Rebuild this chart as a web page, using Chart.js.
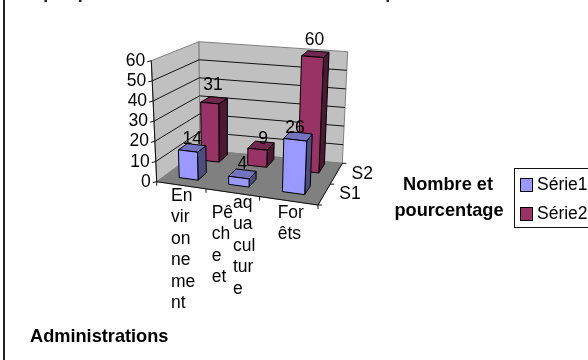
<!DOCTYPE html>
<html>
<head>
<meta charset="utf-8">
<style>html,body{margin:0;padding:0;background:#fff}canvas{display:block}</style>
<script src="https://cdn.jsdelivr.net/npm/chart.js@4"></script>
</head>
<body>
<canvas id="c" width="588" height="360"></canvas>
<script>
// Chart values
const categories = ['Environnement', 'Pêche et aquaculture', 'Forêts'];
const seriesNames = ['Série1', 'Série2'];
const series1 = [14, 4, 26];
const series2 = [31, 9, 60];
const depthLabels = ['S1', 'S2'];
const valueTicks = { min: 0, max: 60, stepSize: 10 };
const xTitle = 'Administrations';
const yTitle = ['Nombre et', 'pourcentage'];
// Narrow-column wrapping of the category names
const categoryColumns = [
  [['En', 'vir', 'on', 'ne', 'me', 'nt']],
  [['Pê', 'ch', 'e', 'et'], ['aq', 'ua', 'cul', 'tur', 'e']],
  [['For', 'êts']]
];

// Placement of those wrapped columns and of the value labels
const columnOffsets = [[[-12.8, 14]], [[-25.8, 31], [-4.5, 21]], [[-13.5, 31]]];
const valueNudge = [
  [[0, 9], [0, 10], [-3, 8]],
  [[-1, 15], [2, 6], [-1, 14]]
];

const FONT = '"Liberation Sans", Arial, sans-serif';
const SIZE = 17.5;
const BOLD = 18.2;

// Corners of the 3D box: floor (h=0) and top (h=1), front/back, left/right
const box = {
  f0l: [156.7, 181.7], f0r: [318, 205], b0l: [200, 150], b0r: [342.3, 163.3],
  f1l: [151.3, 60.7], f1r: [324, 78], b1l: [199, 41.7], b1r: [347.7, 51.7]
};
const rows = [{ v: 0.295, half: 0.105 }, { v: 0.83, half: 0.105 }];

const mix = (a, b, t) => [a[0] + (b[0] - a[0]) * t, a[1] + (b[1] - a[1]) * t];
const warp = u => u / (1.135 - 0.135 * u);
function project(u, v, h) {
  const w = warp(u);
  const floor = mix(mix(box.f0l, box.f0r, w), mix(box.b0l, box.b0r, w), v);
  const top = mix(mix(box.f1l, box.f1r, w), mix(box.b1l, box.b1r, w), v);
  return mix(floor, top, h);
}
function poly(ctx, pts, fill, stroke, width) {
  ctx.beginPath();
  pts.forEach((p, i) => i ? ctx.lineTo(p[0], p[1]) : ctx.moveTo(p[0], p[1]));
  ctx.closePath();
  if (fill) { ctx.fillStyle = fill; ctx.fill(); }
  if (stroke) { ctx.strokeStyle = stroke; ctx.lineWidth = width || 1; ctx.stroke(); }
}
function seg(ctx, a, b, color, width) {
  ctx.beginPath();
  ctx.moveTo(a[0], a[1]);
  ctx.lineTo(b[0], b[1]);
  ctx.strokeStyle = color;
  ctx.lineWidth = width || 1;
  ctx.stroke();
}

// Bars drawn as boxes; x, y, base and width come from the bar controller
class Box3DController extends Chart.BarController {
  static id = 'box3d';
  draw() {
    const ctx = this._ctx, area = this.chart.chartArea;
    const ds = this.getDataset();
    const row = rows[this.index];
    const U = x => (x - area.left) / (area.right - area.left);
    const H = y => (area.bottom - y) / (area.bottom - area.top);
    ctx.save();
    ctx.lineJoin = 'round';
    this.getMeta().data.forEach(el => {
      const p = el.getProps(['x', 'y', 'base', 'width'], true);
      const u0 = U(p.x - p.width / 2), u1 = U(p.x + p.width / 2);
      const v0 = row.v - row.half, v1 = row.v + row.half;
      const h1 = H(p.y), h0 = H(p.base);
      const fl = project(u0, v0, h0), fr = project(u1, v0, h0);
      const tl = project(u0, v0, h1), tr = project(u1, v0, h1);
      const bl = project(u0, v1, h1), br = project(u1, v1, h1);
      const sb = project(u1, v1, h0);
      poly(ctx, [fr, tr, br, sb], ds.sideColor, '#000', 1);
      poly(ctx, [tl, tr, br, bl], ds.topColor, '#000', 1);
      poly(ctx, [fl, fr, tr, tl], el.options.backgroundColor, '#000', 1);
    });
    ctx.restore();
  }
}

// Value axis whose labels follow the slant of the left wall
class WallAxis extends Chart.LinearScale {
  static id = 'wallAxis';
  _computeLabelArea() { return undefined; }
  _computeLabelItems(area) {
    const items = super._computeLabelItems(area);
    items.forEach(it => {
      const y = it.options.translation[1];
      const h = (this.bottom - y) / (this.bottom - this.top);
      it.options.translation = [project(0, 0, h)[0] - 6, y];
      it.options.textAlign = 'right';
    });
    return items;
  }
}

// Category axis drawing each name as narrow wrapped columns
class FloorAxis extends Chart.CategoryScale {
  static id = 'floorAxis';
  _computeLabelArea() { return undefined; }
  _computeLabelItems(area) {
    const base = super._computeLabelItems(area)[0];
    const out = [];
    categoryColumns.forEach((cols, i) => {
      const x = this.getPixelForTick(i);
      cols.forEach((lines, j) => {
        const [dx, dy] = columnOffsets[i][j];
        out.push({
          ...base,
          label: lines,
          textOffset: 0,
          options: {
            ...base.options,
            textAlign: 'left',
            textBaseline: 'middle',
            translation: [x + dx, this.chart.chartArea.bottom + dy]
          }
        });
      });
    });
    return out;
  }
}
Chart.register(Box3DController, WallAxis, FloorAxis);

// Page ground, walls, floor, axis lines, depth axis and titles
const scenePlugin = {
  id: 'scene',
  beforeDraw(chart) {
    const ctx = chart.ctx;
    ctx.save();
    ctx.fillStyle = '#fff';
    ctx.fillRect(0, 0, chart.width, chart.height);
    // frame edge and the title descenders left at the cut top edge
    ctx.fillStyle = '#222';
    ctx.fillRect(3, 0, 2, chart.height);
    [44.5, 79, 386.5].forEach(x => ctx.fillRect(x, 0, 2.5, 2));
    ctx.restore();
  },
  beforeDatasetsDraw(chart) {
    const ctx = chart.ctx, yS = chart.scales.y, xS = chart.scales.x;
    ctx.save();
    const wallLine = '#808080';
    poly(ctx, [box.f0l, box.b0l, box.b1l, box.f1l], '#C0C0C0', wallLine);
    poly(ctx, [box.b0l, box.b0r, box.b1r, box.b1l], '#C0C0C0', wallLine);
    poly(ctx, [box.f0l, box.f0r, box.b0r, box.b0l], '#808080', wallLine);
    const frac = t => (t - yS.min) / (yS.max - yS.min);
    yS.ticks.forEach(t => {
      const h = frac(t.value);
      if (h > 0 && h < 1) {
        seg(ctx, project(0, 0, h), project(0, 1, h), '#111');
        seg(ctx, project(0, 1, h), project(1, 1, h), '#111');
      }
      const p = project(0, 0, h);
      seg(ctx, p, [p[0] - 4, p[1] + 1], '#111');
    });
    seg(ctx, box.f0l, box.f1l, '#111');
    seg(ctx, box.f0l, box.f0r, '#111');
    seg(ctx, box.f0r, box.b0r, '#111');
    // category tick marks along the front floor edge
    const nCat = xS.ticks.length;
    for (let i = 0; i <= nCat; i++) {
      const p = project(i / nCat, 0, 0);
      seg(ctx, p, [p[0], p[1] + 4], '#111');
    }
    // depth axis ticks and series names
    for (let i = 0; i <= depthLabels.length; i++) {
      const p = project(1, i / depthLabels.length, 0);
      seg(ctx, p, [p[0] + 4, p[1]], '#111');
    }
    ctx.fillStyle = '#000';
    ctx.font = SIZE + 'px ' + FONT;
    ctx.textAlign = 'center';
    ctx.textBaseline = 'middle';
    depthLabels.forEach((name, i) => {
      const p = project(1, (i + 0.5) / depthLabels.length, 0);
      ctx.fillText(name, p[0] + 26, p[1]);
    });
    ctx.restore();
  },
  afterDatasetsDraw(chart) {
    const ctx = chart.ctx, area = chart.chartArea;
    ctx.save();
    ctx.fillStyle = '#000';
    ctx.font = SIZE + 'px ' + FONT;
    ctx.textAlign = 'center';
    ctx.textBaseline = 'middle';
    chart.data.datasets.forEach((ds, d) => {
      chart.getDatasetMeta(d).data.forEach((el, i) => {
        const u = (el.x - area.left) / (area.right - area.left);
        const h = (area.bottom - el.y) / (area.bottom - area.top);
        const p = project(u, rows[d].v, h);
        const [dx, lift] = valueNudge[d][i];
        ctx.fillText(String(ds.data[i]), p[0] + dx, p[1] - lift);
      });
    });
    ctx.font = 'bold ' + BOLD + 'px ' + FONT;
    ctx.textAlign = 'left';
    ctx.fillText(xTitle, 30, 337);
    ctx.textAlign = 'center';
    ctx.fillText(yTitle[0], 448, 185);
    ctx.fillText(yTitle[1], 449, 211);
    ctx.restore();
  },
  afterLayout(chart) {
    // framed legend right of the plot, running off the page edge
    const lg = chart.legend;
    lg.draw = function () {
      const ctx = this.ctx;
      ctx.save();
      ctx.strokeStyle = '#111';
      ctx.lineWidth = 1;
      ctx.strokeRect(514.5, 168.5, 90, 59);
      ctx.font = SIZE + 'px ' + FONT;
      ctx.textAlign = 'left';
      ctx.textBaseline = 'middle';
      this.legendItems.forEach((item, i) => {
        const top = 178.5 + i * 29;
        ctx.fillStyle = item.fillStyle;
        ctx.strokeStyle = item.strokeStyle;
        ctx.fillRect(520.5, top, 12, 13);
        ctx.strokeRect(520.5, top, 12, 13);
        ctx.fillStyle = '#000';
        ctx.fillText(item.text, 537, top + 6.5);
      });
      ctx.restore();
    };
  }
};

new Chart(document.getElementById('c'), {
  type: 'box3d',
  plugins: [scenePlugin],
  data: {
    labels: categories,
    datasets: [
      { label: seriesNames[0], data: series1, clip: false, backgroundColor: '#9999FF', sideColor: '#4C4C7F', topColor: '#7373BF', borderColor: '#000', borderWidth: 1 },
      { label: seriesNames[1], data: series2, clip: false, backgroundColor: '#993366', sideColor: '#4C1933', topColor: '#732650', borderColor: '#000', borderWidth: 1 }
    ]
  },
  options: {
    responsive: false,
    animation: false,
    grouped: false,
    categoryPercentage: 0.39,
    barPercentage: 1,
    layout: { padding: { left: 117, right: 270, top: 61, bottom: 178 } },
    scales: {
      x: {
        type: 'floorAxis',
        offset: true,
        grid: { display: false },
        border: { display: false },
        ticks: {
          autoSkip: false, maxRotation: 0, color: '#000',
          font: { family: FONT, size: SIZE, lineHeight: 21.5 / SIZE }
        },
        afterFit(s) { s.height = 0; }
      },
      y: {
        type: 'wallAxis',
        min: valueTicks.min,
        max: valueTicks.max,
        grid: { display: false },
        border: { display: false },
        ticks: {
          autoSkip: false, stepSize: valueTicks.stepSize, color: '#000',
          font: { family: FONT, size: SIZE }
        },
        afterFit(s) { s.width = 40; }
      }
    },
    plugins: {
      title: { display: false },
      tooltip: { enabled: false },
      legend: { position: 'chartArea', align: 'start' }
    }
  }
});
</script>
</body>
</html>
